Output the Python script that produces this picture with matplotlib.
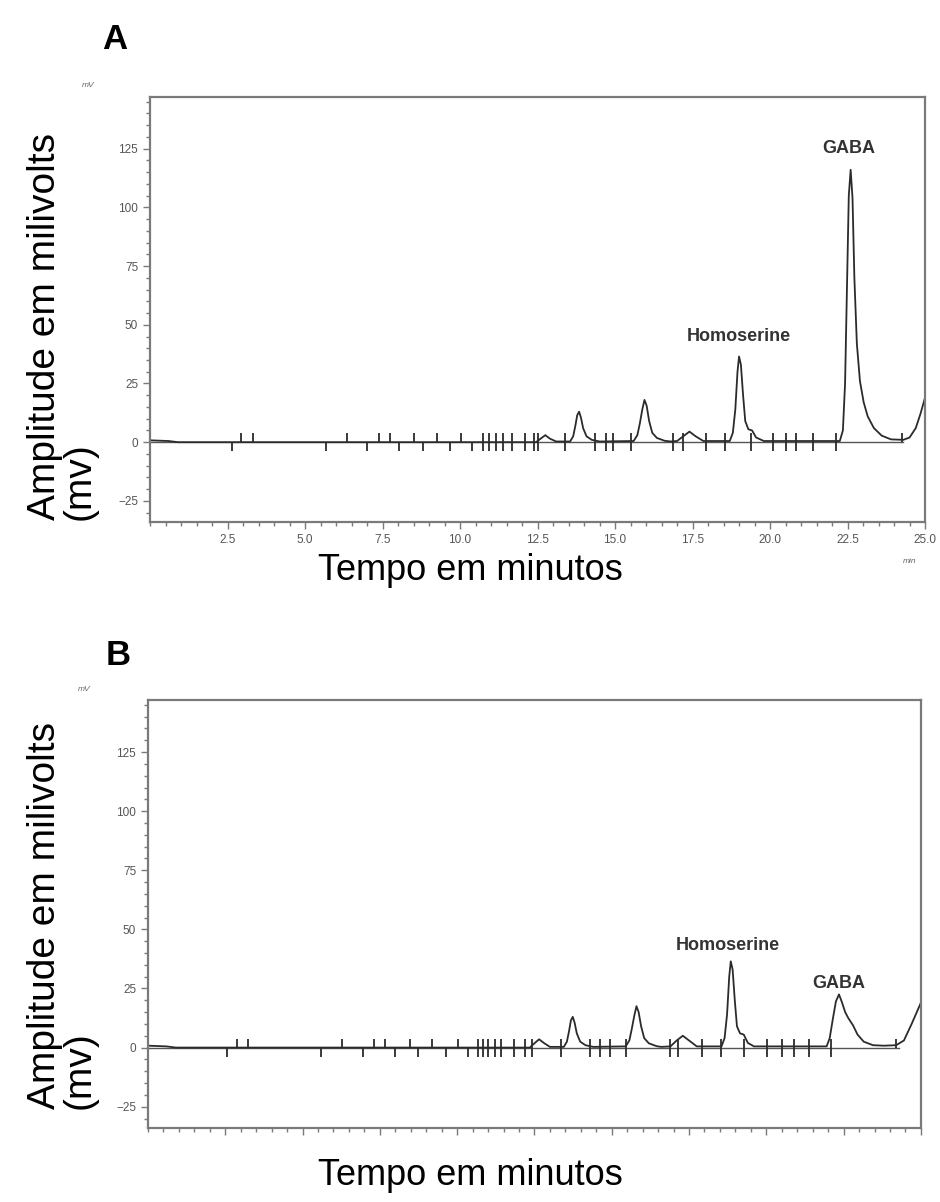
import matplotlib
matplotlib.use("Agg")
import matplotlib.pyplot as plt
from matplotlib.ticker import MultipleLocator, FormatStrFormatter

# ---- panel A: chromatogram trace (time in min, signal in mV) ----
a_time = [0.0, 0.6, 0.9,
          12.45, 12.6, 12.75, 12.9, 13.1,
          13.55, 13.65, 13.72, 13.78, 13.84, 13.9, 13.97, 14.08, 14.25, 14.5,
          15.6, 15.72, 15.8, 15.88, 15.95, 16.02, 16.1, 16.2, 16.35, 16.6, 16.8,
          17.0, 17.2, 17.4, 17.6, 17.85,
          18.7, 18.8, 18.88, 18.95, 19.0, 19.06, 19.13, 19.2, 19.3, 19.42, 19.55, 19.8,
          22.25, 22.35, 22.42, 22.48, 22.54, 22.6, 22.66, 22.72, 22.8, 22.9, 23.02,
          23.15, 23.35, 23.6, 23.9, 24.3, 24.5, 24.7, 24.85, 25.0]
a_mv = [0.8, 0.5, 0.0,
        0.0, 1.5, 3.0, 1.5, 0.3,
        0.3, 2.5, 7.0, 11.5, 13.0, 10.5, 6.0, 2.5, 1.0, 0.3,
        0.5, 3.0, 8.0, 14.0, 18.0, 15.5, 9.0, 4.0, 1.8, 0.6, 0.3,
        0.5, 2.5, 4.5, 2.5, 0.5,
        0.5, 4.0, 14.0, 30.0, 36.5, 33.0, 20.0, 9.0, 5.5, 5.0, 2.0, 0.5,
        0.5, 5.0, 25.0, 65.0, 105.0, 116.0, 104.0, 70.0, 42.0, 26.0, 17.0,
        11.0, 6.0, 2.8, 1.2, 1.0, 2.0, 6.0, 12.0, 19.0]

# integration event marks: 1 = up, -1 = down, 2 = both sides
a_marks = [2.64, 2.94, 3.31, 5.69, 6.35, 6.99, 7.39, 7.74, 8.04, 8.53, 8.82,
           9.26, 9.69, 10.04, 10.39, 10.73, 10.94, 11.17, 11.38, 11.69, 12.1,
           12.39, 12.51, 13.4, 14.34, 14.7, 14.95, 15.5, 16.88, 17.18, 17.95,
           18.55, 19.4, 20.08, 20.52, 20.85, 21.4, 22.12, 24.25]
a_dirs = [-1, 1, 1, -1, 1, -1, 1, 1, -1, 1, -1,
          1, -1, 1, -1, 2, 2, 2, 2, 2, 2,
          2, 2, 2, 2, 2, 2, 2, 2, 2, 2,
          2, 2, 2, 2, 2, 2, 2, 1]

# ---- panel B ----
b_time = [0.0, 0.6, 0.9,
          12.35, 12.5, 12.65, 12.8, 13.0,
          13.45, 13.55, 13.62, 13.68, 13.74, 13.8, 13.87, 13.98, 14.15, 14.4,
          15.45, 15.57, 15.65, 15.73, 15.8, 15.87, 15.95, 16.05, 16.2, 16.45, 16.6,
          16.9, 17.1, 17.3, 17.5, 17.75,
          18.55, 18.65, 18.73, 18.8, 18.85, 18.91, 18.98, 19.05, 19.15, 19.27, 19.4, 19.6,
          21.95, 22.05, 22.15, 22.25, 22.35, 22.45, 22.55, 22.65, 22.8, 22.95, 23.15,
          23.45, 23.8, 24.2, 24.45, 24.7, 25.0]
b_mv = [0.8, 0.5, 0.0,
        0.0, 1.8, 3.5, 2.0, 0.3,
        0.3, 2.5, 7.0, 11.5, 13.0, 10.5, 6.0, 2.5, 1.0, 0.3,
        0.5, 3.0, 8.0, 13.5, 17.5, 15.0, 9.0, 4.0, 1.8, 0.6, 0.3,
        0.5, 3.0, 5.0, 3.0, 0.5,
        0.5, 4.0, 14.0, 30.0, 36.5, 33.0, 20.0, 9.0, 6.0, 5.5, 2.0, 0.5,
        0.5, 4.0, 12.0, 19.5, 22.5, 19.0, 15.0, 12.5, 9.5, 5.5, 2.5,
        1.0, 0.8, 1.0, 3.0, 10.0, 19.0]

b_marks = [2.57, 2.88, 3.23, 5.61, 6.27, 6.94, 7.32, 7.67, 7.98, 8.48, 8.75,
           9.2, 9.63, 10.02, 10.36, 10.68, 10.83, 11.01, 11.23, 11.41, 11.84,
           12.19, 12.41, 13.35, 14.31, 14.62, 14.94, 15.46, 16.89, 17.15, 17.93,
           18.54, 19.27, 20.02, 20.5, 20.88, 21.37, 22.1, 24.19]
b_dirs = a_dirs

# peak labels: (text, time, mV)
a_labels = [("Homoserine", 19.0, 45), ("GABA", 22.55, 125)]
b_labels = [("Homoserine", 18.75, 43), ("GABA", 22.35, 27)]

x_ticks = [2.5, 5.0, 7.5, 10.0, 12.5, 15.0, 17.5, 20.0, 22.5, 25.0]
y_ticks = [-25, 0, 25, 50, 75, 100, 125]

GREY = "#7a7a7a"
TRACE = "#2b2b2b"


def draw_panel(ax, t, mv, marks, dirs, labels, show_xlabels=True):
    ax.plot([0, 24.3], [0, 0], color="#555555", linewidth=1.0)
    ax.plot(t, mv, color=TRACE, linewidth=1.3)
    for m, d in zip(marks, dirs):
        lo = -3.8 if d in (-1, 2) else 0
        hi = 3.8 if d in (1, 2) else 0
        ax.vlines(m, lo, hi, color=TRACE, linewidth=1.3)
    for txt, x, y in labels:
        ax.text(x, y, txt, ha="center", va="center", fontsize=13,
                fontweight="bold", color="#333333", family="Liberation Sans")

    ax.set_xlim(0, 25)
    ax.set_ylim(-34, 147)
    ax.xaxis.set_minor_locator(MultipleLocator(0.5))
    ax.yaxis.set_minor_locator(MultipleLocator(5))
    ax.set_xticks(x_ticks)
    ax.set_yticks(y_ticks)
    ax.xaxis.set_major_formatter(FormatStrFormatter("%.1f"))
    ax.tick_params(which="both", direction="out", color=GREY, labelsize=8.5,
                   labelcolor="#555555", width=1.0)
    ax.tick_params(which="major", length=5)
    ax.tick_params(which="minor", length=3)
    if not show_xlabels:
        ax.tick_params(axis="x", labelbottom=False)
    for s in ax.spines.values():
        s.set_color(GREY)
        s.set_linewidth(1.6)


fig = plt.figure(figsize=(9.4, 12.02), dpi=100)
plt.rcParams["font.family"] = ["Liberation Sans", "DejaVu Sans"]

ax_a = fig.add_axes([0.1596, 0.5657, 0.8245, 0.3536])
draw_panel(ax_a, a_time, a_mv, a_marks, a_dirs, a_labels)

ax_b = fig.add_axes([0.1574, 0.0616, 0.8223, 0.356])
draw_panel(ax_b, b_time, b_mv, b_marks, b_dirs, b_labels, show_xlabels=False)

# panel letters and axis titles
fig.text(0.122, 0.967, "A", fontsize=25, fontweight="bold", ha="center", va="center")
fig.text(0.126, 0.455, "B", fontsize=25, fontweight="bold", ha="center", va="center")

fig.text(0.094, 0.928, "mV", fontsize=6, style="italic", color="#666666", ha="center")
fig.text(0.090, 0.425, "mV", fontsize=6, style="italic", color="#666666", ha="center")
fig.text(0.968, 0.532, "min", fontsize=6, style="italic", color="#666666", ha="center")

ylab = "Amplitude em milivolts\n(mv)"
fig.text(0.066, 0.567, ylab, rotation=90, fontsize=28, ha="center", va="bottom",
         multialignment="left", linespacing=0.95)
fig.text(0.066, 0.077, ylab, rotation=90, fontsize=28, ha="center", va="bottom",
         multialignment="left", linespacing=0.95)

fig.text(0.50, 0.525, "Tempo em minutos", fontsize=26, ha="center", va="center")
fig.text(0.50, 0.022, "Tempo em minutos", fontsize=26, ha="center", va="center")

fig.savefig("out.png", dpi=100)
